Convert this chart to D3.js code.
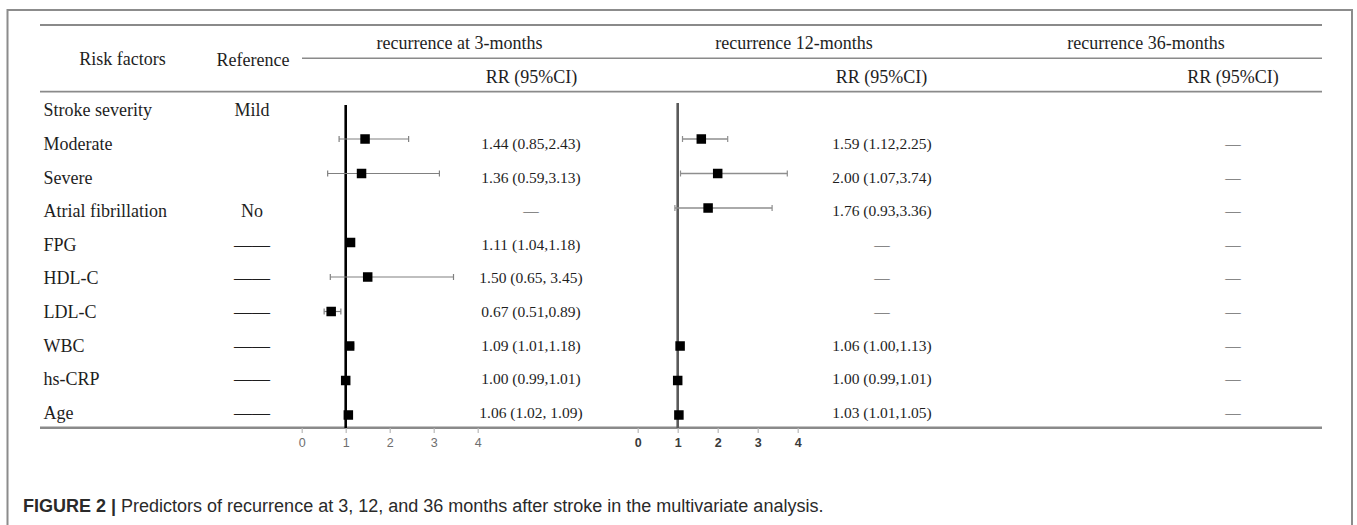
<!DOCTYPE html>
<html>
<head>
<meta charset="utf-8">
<script src="https://cdn.jsdelivr.net/npm/d3@7"></script>
<style>
  body { margin: 0; background: #fff; }
  svg { display: block; }
</style>
</head>
<body>
<svg id="chart" width="1357" height="525"></svg>
<script>
// Row labels and reference categories
var factors = ["Stroke severity", "Moderate", "Severe", "Atrial fibrillation", "FPG", "HDL-C", "LDL-C", "WBC", "hs-CRP", "Age"];
var references = ["Mild", "", "", "No", "——", "——", "——", "——", "——", "—―"];

// recurrence at 3 months: RR and 95% CI (null = not in model)
var rr3 = [null, 1.44, 1.36, null, 1.11, 1.50, 0.67, 1.09, 1.00, 1.06];
var lo3 = [null, 0.85, 0.59, null, 1.04, 0.65, 0.51, 1.01, 0.99, 1.02];
var hi3 = [null, 2.43, 3.13, null, 1.18, 3.45, 0.89, 1.18, 1.01, 1.09];
var txt3 = ["", "1.44 (0.85,2.43)", "1.36 (0.59,3.13)", "—", "1.11 (1.04,1.18)", "1.50 (0.65, 3.45)", "0.67 (0.51,0.89)", "1.09 (1.01,1.18)", "1.00 (0.99,1.01)", "1.06 (1.02, 1.09)"];

// recurrence at 12 months
var rr12 = [null, 1.59, 2.00, 1.76, null, null, null, 1.06, 1.00, 1.03];
var lo12 = [null, 1.12, 1.07, 0.93, null, null, null, 1.00, 0.99, 1.01];
var hi12 = [null, 2.25, 3.74, 3.36, null, null, null, 1.13, 1.01, 1.05];
var txt12 = ["", "1.59 (1.12,2.25)", "2.00 (1.07,3.74)", "1.76 (0.93,3.36)", "—", "—", "—", "1.06 (1.00,1.13)", "1.00 (0.99,1.01)", "1.03 (1.01,1.05)"];

// recurrence at 36 months
var txt36 = ["", "—", "—", "—", "—", "—", "—", "—", "—", "—"];

var axisTicks = [0, 1, 2, 3, 4];

var svg = d3.select("#chart");
var serif = "'Liberation Serif', 'Times New Roman', serif";
var sans = "'Liberation Sans', Arial, sans-serif";
var lineColor = "#8a8a8a";
var textColor = "#1e1e1e";

// scales
var yRow = d3.scalePoint().domain(factors).range([110, 412.5]);
var yMark = d3.scalePoint().domain(factors).range([104.5, 415]);
var x3 = d3.scaleLinear().domain([0, 4]).range([301.7, 477.7]);
var x12 = d3.scaleLinear().domain([0, 4]).range([637.7, 797.7]);

// outer frame
svg.append("rect")
    .attr("x", 7.5).attr("y", 10)
    .attr("width", 1344.5).attr("height", 530)
    .attr("fill", "none")
    .attr("stroke", "#8c8c8c")
    .attr("stroke-width", 2);

// table rules
var rules = [
    { x1: 40, x2: 1322, y: 25, w: 1.8 },
    { x1: 302, x2: 1322, y: 58.3, w: 1.6 },
    { x1: 40, x2: 1322, y: 91.7, w: 1.8 },
    { x1: 40, x2: 1322, y: 427.7, w: 2.6 }
];
svg.selectAll("line.rule")
    .data(rules)
    .enter()
    .append("line")
    .attr("class", "rule")
    .attr("x1", d => d.x1).attr("x2", d => d.x2)
    .attr("y1", d => d.y).attr("y2", d => d.y)
    .attr("stroke", lineColor)
    .attr("stroke-width", d => d.w);

// headers
var headers = [
    { t: "Risk factors", x: 122.6, y: 59 },
    { t: "Reference", x: 253, y: 60 },
    { t: "recurrence at 3-months", x: 459.5, y: 43 },
    { t: "recurrence 12-months", x: 794, y: 43 },
    { t: "recurrence 36-months", x: 1146, y: 43 },
    { t: "RR (95%CI)", x: 531.5, y: 77 },
    { t: "RR (95%CI)", x: 881.5, y: 77 },
    { t: "RR (95%CI)", x: 1233, y: 77 }
];
svg.selectAll("text.header")
    .data(headers)
    .enter()
    .append("text")
    .attr("class", "header")
    .attr("x", d => d.x).attr("y", d => d.y)
    .attr("dy", "0.35em")
    .attr("text-anchor", "middle")
    .attr("font-family", serif)
    .attr("font-size", "18px")
    .attr("fill", textColor)
    .text(d => d.t);

// row labels
svg.selectAll("text.factor")
    .data(factors)
    .enter()
    .append("text")
    .attr("class", "factor")
    .attr("x", 43.5)
    .attr("y", d => yRow(d))
    .attr("dy", "0.35em")
    .attr("font-family", serif)
    .attr("font-size", "18px")
    .attr("fill", textColor)
    .text(d => d);

svg.selectAll("text.ref")
    .data(references)
    .enter()
    .append("text")
    .attr("class", "ref")
    .attr("x", 252)
    .attr("y", (d, i) => yRow(factors[i]))
    .attr("dy", "0.35em")
    .attr("text-anchor", "middle")
    .attr("font-family", serif)
    .attr("font-size", "18px")
    .attr("fill", textColor)
    .text(d => d);

// value columns
var valueCols = [
    { x: 531, texts: txt3 },
    { x: 882, texts: txt12 },
    { x: 1233, texts: txt36 }
];
valueCols.forEach(function (col) {
    svg.append("g")
        .selectAll("text")
        .data(col.texts)
        .enter()
        .append("text")
        .attr("x", col.x)
        .attr("y", (d, i) => yRow(factors[i]))
        .attr("dy", "0.35em")
        .attr("text-anchor", "middle")
        .attr("font-family", serif)
        .attr("font-size", "15.5px")
        .attr("fill", textColor)
        .text(d => d);
});

// forest plot panel
function drawForest(xScale, rr, lo, hi, opts) {
    var g = svg.append("g");

    var rows = factors.map(function (f, i) {
        return { f: f, rr: rr[i], lo: lo[i], hi: hi[i] };
    }).filter(d => d.rr !== null);

    // axis
    var axis = g.append("g")
        .attr("transform", "translate(0," + 428 + ")")
        .call(d3.axisBottom(xScale).tickValues(axisTicks).tickSize(5).tickPadding(5).tickFormat(d3.format("d")));
    axis.select(".domain").remove();
    axis.selectAll(".tick line").attr("stroke", "#b8b8b8").attr("stroke-width", 1.2);
    axis.selectAll(".tick text")
        .attr("font-family", sans)
        .attr("font-size", "12.5px")
        .attr("font-weight", opts.tickWeight)
        .attr("fill", opts.tickColor);

    // line of no effect
    g.append("line")
        .attr("x1", xScale(1)).attr("x2", xScale(1))
        .attr("y1", opts.refTop).attr("y2", 428)
        .attr("stroke", opts.refColor)
        .attr("stroke-width", opts.refWidth);

    // confidence intervals
    g.selectAll("line.ci")
        .data(rows)
        .enter()
        .append("line")
        .attr("class", "ci")
        .attr("x1", d => xScale(d.lo)).attr("x2", d => xScale(d.hi))
        .attr("y1", d => yMark(d.f)).attr("y2", d => yMark(d.f))
        .attr("stroke", opts.ciColor)
        .attr("stroke-width", opts.ciWidth);

    ["lo", "hi"].forEach(function (k) {
        g.selectAll("line.cap-" + k)
            .data(rows)
            .enter()
            .append("line")
            .attr("class", "cap-" + k)
            .attr("x1", d => xScale(d[k])).attr("x2", d => xScale(d[k]))
            .attr("y1", d => yMark(d.f) - 3).attr("y2", d => yMark(d.f) + 3)
            .attr("stroke", opts.ciColor)
            .attr("stroke-width", 1.2);
    });

    // point estimates
    var s = 9.5;
    g.selectAll("rect.est")
        .data(rows)
        .enter()
        .append("rect")
        .attr("class", "est")
        .attr("x", d => xScale(d.rr) - s / 2)
        .attr("y", d => yMark(d.f) - s / 2)
        .attr("width", s).attr("height", s)
        .attr("fill", "#000");
}

drawForest(x3, rr3, lo3, hi3, {
    tickWeight: "normal", tickColor: "#6e6e6e",
    refTop: 105, refColor: "#000", refWidth: 2.6,
    ciColor: "#808080", ciWidth: 1.2
});

drawForest(x12, rr12, lo12, hi12, {
    tickWeight: "bold", tickColor: "#3a3a3a",
    refTop: 103, refColor: "#5a5a5a", refWidth: 2.6,
    ciColor: "#8e8e8e", ciWidth: 1.5
});

// caption
var caption = svg.append("text")
    .attr("x", 23)
    .attr("y", 506)
    .attr("dy", "0.35em")
    .attr("font-family", sans)
    .attr("font-size", "18px")
    .attr("fill", "#2a2a2a");
caption.append("tspan").attr("font-weight", "bold").text("FIGURE 2 | ");
caption.append("tspan").text("Predictors of recurrence at 3, 12, and 36 months after stroke in the multivariate analysis.");
</script>
</body>
</html>
